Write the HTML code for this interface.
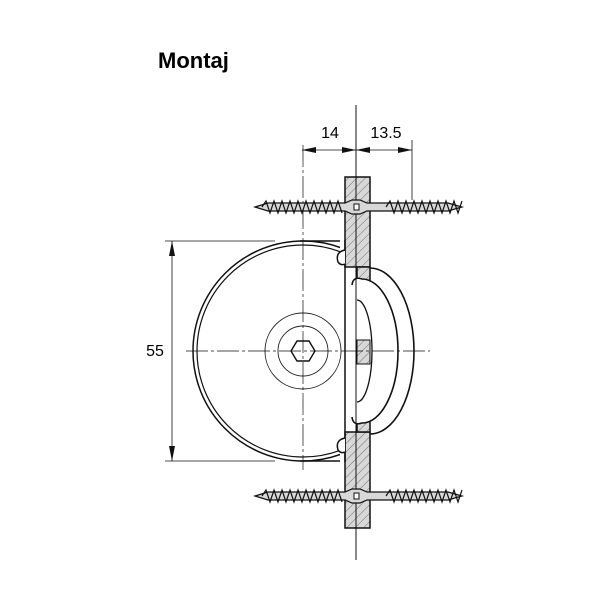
<!DOCTYPE html>
<html><head><style>body{margin:0;background:#fff}svg{display:block}</style></head><body>
<svg width="601" height="601" viewBox="0 0 601 601" xmlns="http://www.w3.org/2000/svg" font-family="Liberation Sans, sans-serif">
<defs>
<pattern id="h" width="6" height="6" patternUnits="userSpaceOnUse" patternTransform="rotate(45)"><rect width="6" height="6" fill="#d8d8d8"/><line x1="0" y1="0" x2="0" y2="6" stroke="#555" stroke-width="0.8"/></pattern>
<clipPath id="cl"><rect x="0" y="0" width="340" height="601"/></clipPath>
<g id="screw">
<path d="M255,207 L268,203 L345,203 L352,200 L360,200 L367,203 L448,203 L462,207 L448,211 L367,211 L360,214 L352,214 L345,211 L268,211 Z" fill="#d8d8d8" stroke="#111" stroke-width="1.2"/>
<path d="M262,207 l4,-6 l4,12 l4,-12 l4,12 l4,-12 l4,12 l4,-12 l4,12 l4,-12 l4,12 l4,-12 l4,12 l4,-12 l4,12 l4,-12 l4,12 l4,-12 l4,12 l4,-12 l4,12" fill="none" stroke="#111" stroke-width="1.2"/>
<path d="M386,207 l4,-6 l4,12 l4,-12 l4,12 l4,-12 l4,12 l4,-12 l4,12 l4,-12 l4,12 l4,-12 l4,12 l4,-12 l4,12 l4,-12 l4,12 l4,-12 l4,12 l4,-12" fill="none" stroke="#111" stroke-width="1.2"/>
<rect x="354" y="204" width="5" height="6" fill="#fff" stroke="#111"/>
</g>
</defs>
<text x="158" y="68" font-size="22" font-weight="bold">Montaj</text>
<!-- plate -->
<rect x="345" y="177" width="25" height="90" fill="url(#h)" stroke="#111" stroke-width="1.5"/>
<rect x="345" y="432" width="25" height="96" fill="url(#h)" stroke="#111" stroke-width="1.5"/>
<rect x="357" y="267" width="13" height="165" fill="url(#h)" stroke="#111" stroke-width="1.5"/>
<!-- circle body -->
<g clip-path="url(#cl)">
<circle cx="303" cy="351" r="110" fill="none" stroke="#111" stroke-width="1.5"/>
<circle cx="303" cy="351" r="106" fill="none" stroke="#111" stroke-width="1.2"/>
</g>
<line x1="300" y1="241" x2="340" y2="241" stroke="#111" stroke-width="1.5"/>
<line x1="300" y1="461" x2="340" y2="461" stroke="#111" stroke-width="1.5"/>
<line x1="345" y1="240" x2="345" y2="462" stroke="#111" stroke-width="1.5"/>
<path d="M345,250 q-10,2 -7,12 q3,4 7,2" fill="#fff" stroke="#111" stroke-width="1.5"/>
<path d="M345,438 q-10,2 -7,12 q3,4 7,2" fill="#fff" stroke="#111" stroke-width="1.5"/>
<!-- handle -->
<path d="M370,268 A44,83 0 0 1 370,434" fill="none" stroke="#111" stroke-width="1.6"/>
<path d="M352,285 q1,-9 10,-6 A36,72 0 0 1 362,423 q-9,3 -10,-6" fill="#fff" stroke="#111" stroke-width="1.6"/>
<path d="M357,300 A15,51 0 0 1 357,402" fill="none" stroke="#111" stroke-width="1.3"/>
<path d="M357,340 h13 v24 h-13 z" fill="url(#h)" stroke="#111"/>
<!-- hub -->
<circle cx="303" cy="351" r="38" fill="none" stroke="#222" stroke-width="0.9"/>
<circle cx="303" cy="351" r="25" fill="none" stroke="#222" stroke-width="0.9"/>
<polygon points="291,351 297,341 309,341 315,351 309,361 297,361" fill="#fff" stroke="#111" stroke-width="1.4"/>
<!-- center lines -->
<line x1="186" y1="351" x2="430" y2="351" stroke="#111" stroke-width="0.7" stroke-dasharray="22,3,3,3"/>
<line x1="303" y1="145" x2="303" y2="470" stroke="#111" stroke-width="0.7" stroke-dasharray="22,3,3,3"/>
<line x1="356" y1="105" x2="356" y2="560" stroke="#111" stroke-width="1"/>
<use href="#screw"/>
<use href="#screw" transform="translate(0,289)"/>
<!-- dims -->
<line x1="412" y1="140" x2="412" y2="200" stroke="#111" stroke-width="0.8"/>
<line x1="302" y1="150" x2="412" y2="150" stroke="#111" stroke-width="0.8"/>
<polygon points="302,150 316,147 316,153" fill="#111"/>
<polygon points="356,150 342,147 342,153" fill="#111"/>
<polygon points="356,150 370,147 370,153" fill="#111"/>
<polygon points="412,150 398,147 398,153" fill="#111"/>
<text x="330" y="138" font-size="16" text-anchor="middle">14</text>
<text x="386" y="138" font-size="16" text-anchor="middle">13.5</text>
<line x1="165" y1="241" x2="275" y2="241" stroke="#111" stroke-width="0.8"/>
<line x1="165" y1="461" x2="275" y2="461" stroke="#111" stroke-width="0.8"/>
<line x1="172" y1="241" x2="172" y2="461" stroke="#111" stroke-width="0.8"/>
<polygon points="172,241 169,256 175,256" fill="#111"/>
<polygon points="172,461 169,446 175,446" fill="#111"/>
<text x="155" y="356" font-size="16" text-anchor="middle">55</text>
</svg>
</body></html>
